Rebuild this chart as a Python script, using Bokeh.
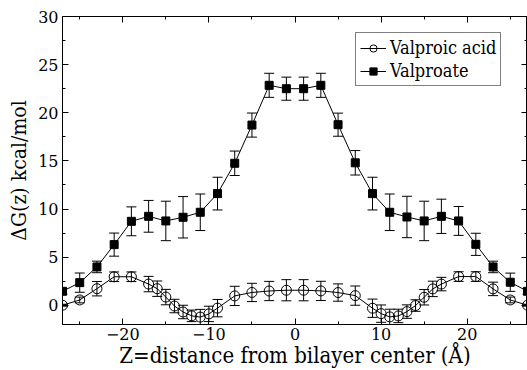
from bokeh.plotting import figure
from bokeh.models import (ColumnDataSource, Whisker, TeeHead, FixedTicker, LinearAxis,
                          Legend, LegendItem, Range1d)
from bokeh.embed import file_html
from bokeh.resources import INLINE

# Valproic acid (open circles)
z_acid = [-27, -25, -23, -21, -19, -17, -16, -15, -14, -13, -12, -11, -10, -9, -7, -5, -3, -1,
          1, 3, 5, 7, 9, 10, 11, 12, 13, 14, 15, 16, 17, 19, 21, 23, 25, 27]
dg_acid = [0.0, 0.55, 1.72, 2.96, 2.96, 2.2, 1.72, 0.85, -0.08, -0.7, -1.1, -1.23, -0.9, -0.3,
           0.97, 1.33, 1.48, 1.56, 1.56, 1.49, 1.32, 1.0, -0.31, -0.87, -1.21, -1.11, -0.66,
           -0.03, 0.83, 1.7, 2.2, 2.98, 2.98, 1.7, 0.55, 0.0]
err_acid = [0.1, 0.3, 0.75, 0.5, 0.5, 0.8, 0.8, 0.8, 0.7, 0.7, 0.6, 0.8, 0.8, 0.9, 1.0, 0.95,
            1.0, 1.1, 1.1, 1.0, 0.9, 1.0, 0.95, 0.9, 0.8, 0.7, 0.7, 0.6, 0.8, 0.8, 0.7, 0.5,
            0.5, 0.7, 0.3, 0.1]

# Valproate (filled squares)
z_ion = [-27, -25, -23, -21, -19, -17, -15, -13, -11, -9, -7, -5, -3, -1,
         1, 3, 5, 7, 9, 11, 13, 15, 17, 19, 21, 23, 25, 27]
dg_ion = [1.45, 2.35, 3.98, 6.3, 8.72, 9.24, 8.76, 9.14, 9.66, 11.6, 14.75, 18.72, 22.85, 22.5,
          22.5, 22.85, 18.76, 14.8, 11.6, 9.66, 9.17, 8.76, 9.24, 8.76, 6.33, 3.98, 2.39, 1.45]
err_ion = [0.3, 1.0, 0.6, 1.2, 1.5, 1.65, 2.05, 2.15, 1.9, 1.7, 1.27, 1.25, 1.25, 1.2,
           1.2, 1.25, 1.2, 1.27, 1.7, 1.9, 2.15, 2.05, 1.78, 1.5, 1.15, 0.6, 0.95, 0.3]

x_major = [-20, -10, 0, 10, 20]
x_minor = [-25, -15, -5, 5, 15, 25]
y_major = [0, 5, 10, 15, 20, 25, 30]
y_minor = [2.5, 7.5, 12.5, 17.5, 22.5, 27.5]

TICK_FONT = "DejaVu Serif"
LABEL_FONT = "DejaVu Serif Condensed"

src_acid = ColumnDataSource(dict(
    x=z_acid, y=dg_acid,
    lo=[a - e for a, e in zip(dg_acid, err_acid)],
    hi=[a + e for a, e in zip(dg_acid, err_acid)]))
src_ion = ColumnDataSource(dict(
    x=z_ion, y=dg_ion,
    lo=[a - e for a, e in zip(dg_ion, err_ion)],
    hi=[a + e for a, e in zip(dg_ion, err_ion)]))

p = figure(width=527, height=370, output_backend="svg", toolbar_location=None,
           x_range=Range1d(-27, 27), y_range=Range1d(-2, 30),
           min_border_left=62, min_border_right=0, min_border_top=16, min_border_bottom=44,
           x_axis_location=None, y_axis_location=None)
p.xgrid.visible = False
p.ygrid.visible = False
p.outline_line_color = "black"
p.outline_line_width = 1
p.background_fill_color = "white"
p.border_fill_color = "white"

def style_axis(ax, ticks, minor, show_labels):
    ax.ticker = FixedTicker(ticks=ticks, minor_ticks=minor)
    ax.major_tick_in = 6
    ax.major_tick_out = 0
    ax.minor_tick_in = 3
    ax.minor_tick_out = 0
    ax.axis_line_color = "black"
    ax.major_tick_line_color = "black"
    ax.minor_tick_line_color = "black"
    ax.major_label_text_font = TICK_FONT
    ax.major_label_text_font_size = "16px"
    ax.major_label_text_color = "black"
    ax.axis_label_text_font = LABEL_FONT
    ax.axis_label_text_font_style = "normal"
    ax.axis_label_text_color = "black"
    ax.axis_label_text_font_size = "22px"
    if not show_labels:
        ax.major_label_text_alpha = 0
        ax.major_label_text_font_size = "0px"
        ax.major_label_standoff = 0

xb = LinearAxis(axis_label="Z=distance from bilayer center (Å)")
style_axis(xb, x_major, x_minor, True)
xb.major_label_standoff = 3
xb.axis_label_standoff = 0
p.add_layout(xb, "below")
xt = LinearAxis()
style_axis(xt, x_major, x_minor, False)
p.add_layout(xt, "above")
yl = LinearAxis(axis_label="ΔG(z) kcal/mol")
style_axis(yl, y_major, y_minor, True)
yl.axis_label_text_font_size = "21px"
yl.major_label_standoff = 4
yl.axis_label_standoff = 4
p.add_layout(yl, "left")
yr = LinearAxis()
style_axis(yr, y_major, y_minor, False)
p.add_layout(yr, "right")

# error bars
for src in (src_acid, src_ion):
    w = Whisker(source=src, base="x", upper="hi", lower="lo", line_color="black", line_width=1,
                upper_head=TeeHead(size=10, line_color="black", line_width=1),
                lower_head=TeeHead(size=10, line_color="black", line_width=1))
    p.add_layout(w)

l1 = p.line("x", "y", source=src_acid, line_color="black", line_width=1)
s1 = p.scatter("x", "y", source=src_acid, marker="circle", size=10, line_color="black",
               fill_color=None, line_width=1)
l2 = p.line("x", "y", source=src_ion, line_color="black", line_width=1)
s2 = p.scatter("x", "y", source=src_ion, marker="square", size=8, line_color="black",
               fill_color="black")

legend = Legend(items=[LegendItem(label="Valproic acid", renderers=[l1, s1]),
                       LegendItem(label="Valproate", renderers=[l2, s2])],
                location=(293, 238))
legend.label_text_font = LABEL_FONT
legend.label_text_font_size = "18px"
legend.label_text_color = "black"
legend.border_line_color = "black"
legend.border_line_width = 1
legend.background_fill_alpha = 1
legend.glyph_width = 26
legend.glyph_height = 18
legend.label_standoff = 4
legend.padding = 4
legend.spacing = 2
legend.margin = 0
legend.label_height = 18
p.add_layout(legend, "center")

open("out.html", "w").write(file_html(p, INLINE))
